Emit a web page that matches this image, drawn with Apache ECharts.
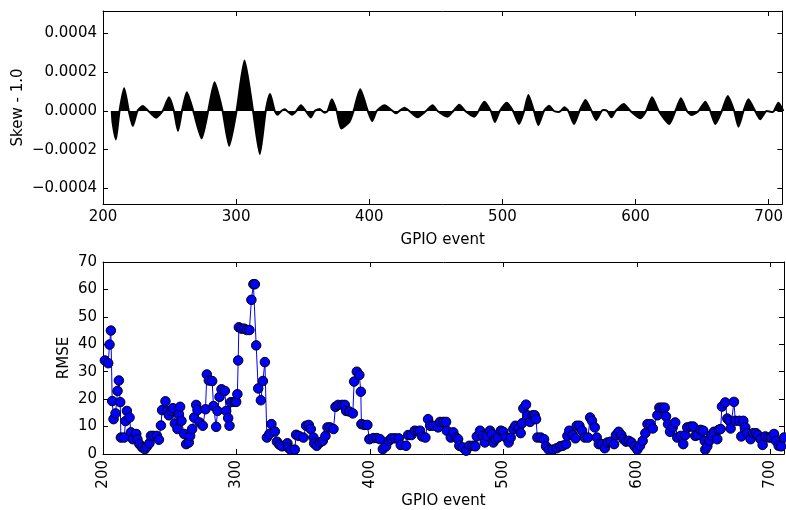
<!DOCTYPE html>
<html>
<head>
<meta charset="utf-8">
<script src="https://cdn.jsdelivr.net/npm/echarts@6/dist/echarts.min.js"></script>
<style>
html,body{margin:0;padding:0;background:#fff;}
#chart{width:786px;height:510px;}
</style>
</head>
<body>
<div id="chart"></div>
<script>
// ---- data ----
const skewEvents = [206.6,207.2,209.7,212.4,215.9,219.4,222.4,225.9,229.9,234.1,239.9,244.8,249.6,253.3,256.3,259.3,263,267.8,274.1,279,283.8,289.8,294.8,300.3,306.3,312.7,317.8,322.2,325.5,329,331,334,336.5,338.2,342,345.2,348.7,352.2,356,359,362.7,364.7,366.4,368.7,371.9,375.5,379,385.2,388.2,393.2,398.9,402.2,405.6,411.4,417.6,420.1,422.6,426.4,430.1,436.3,442.6,447.6,451.3,458.8,463.1,467.6,472.1,478.8,482.1,486.3,491.3,494.3,498,503.3,508,512.5,516.3,519.5,523.7,527,531.2,535,538.7,542,543.7,546.5,549.5,553.8,557.9,562.4,567,570.4,574.5,576.2,578.7,582,585,591.2,596.2,603.7,607.9,612.4,617.4,625.4,629.9,634.1,638.6,642.3,647.3,652.4,656.1,659.9,664.8,669.3,674.1,677.3,681.1,684.8,689.8,693.6,698.5,703,704,707.3,711];
const skewValues = [0,-0.00006,-0.000147,0,0.000117,0,-0.0000776,0,0.000026,0,-0.0000345,0,0.0000707,0,-0.000103,0,0.0000966,0,-0.000141,0,0.000148,0,-0.000179,0,0.00026,0,-0.000222,0,0.000088,0,-0.00002,0,0.0000086,0,-0.00002,0,0.00003,0,-0.000033,0,0.00001,0,-0.0000086,0,0.00006,0,-0.00009,-0.000055,0,0.000112,0,-0.0000517,0,0.000029,0,-0.000012,0,0.0000172,0,-0.0000328,0,0.000029,0,-0.0000293,0,0.0000328,0,-0.0000293,0,0.0000483,0,-0.0000569,0,0.0000431,0,-0.0000672,0,0.0000828,0,-0.0000724,0,0.0000276,0,-0.000005,0,0.000019,0,-0.0000672,0,0.0000569,0,-0.0000466,0,0.000005,0,-0.0000328,0,0.0000362,0,-0.0000379,0,0.0000707,0,-0.0000672,0,0.0000655,0,-0.0000207,0,0.0000483,0,-0.0000672,0,0.0000776,0,-0.000081,0,0.00006,0,-0.0000431,0,-0.000005,0,0.0000431,0];

const rmseEvents = [201.4,203.9,204.9,205.9,206.9,207.9,209.4,210.9,211.9,212.9,213.4,215.9,216.9,217.9,219.9,220.9,222.4,224.9,225.8,227.3,229.4,231.4,232.9,234.8,235.9,237.8,240.4,241.9,243.4,244.3,246.8,247.9,249.4,251.3,252.4,253.9,255.8,256.9,257.8,258.8,260.8,262.3,264.3,265.3,266.8,268.3,269.8,270.8,272.3,274.8,276.8,277.8,279.3,281.8,282.8,284.8,285.8,287.3,288.8,291.3,292.3,293.8,294.8,295.8,298.8,299.8,300.7,301.3,301.8,
303.7,305.8,307.8,309.7,311.2,312.7,313.8,314.8,316.3,318.3,319.8,321.3,322.8,324.7,326.2,328.8,330.3,332.2,334.2,338.2,338.7,340.7,343.7,344.7,346.7,350.2,352.2,354.2,355.7,357.7,358.2,360.2,362.7,364.7,366.7,368.2,370.2,372.7,374.2,376.2,379.2,381.2,382.2,384.6,387.2,388.2,390.2,392.1,393.2,393.6,395.7,398.1,399.6,402.6,405.2,
407.6,409.7,412.1,414.2,416.1,418.7,421.6,423.1,427.1,428.6,431.1,433.6,436.1,437.6,439.1,441.6,443.6,445.1,447.6,451.1,452.6,455.1,457.1,457.6,460.6,462.5,464.6,466.1,467,469.6,472.1,474.5,477.1,479,480.1,482.5,484.6,486.1,487.6,490,491.5,492.5,494,496,498.1,500,502,504,505.5,507.5,
509,511.5,513,514,515,517,518,520,522,523.5,524.5,525.5,528,530.5,532,534,537,540,542.5,544.5,547,548,549.4,552,554,555,557,559,561,563.4,565,566.4,568.5,570,571.5,574,576,578,580.4,583,584.4,586.4,588.4,590,592,594,596,598.4,600.4,602.4,604.4,606.4,608,610.4,612,
615.4,616.9,618.9,620.9,621.9,623.4,624.9,626.9,628.8,630.3,632.9,634.8,636.3,637.8,640.4,642.3,643.8,645.8,647.9,649.8,650.9,651.3,652.8,654.3,655.8,657.8,660.3,661.3,662.8,663.8,666.3,667.8,669.3,670.3,672.8,673.8,676.8,678.3,679.8,681.3,682.8,685.3,687.3,689.3,690.8,692.8,694.3,696.3,698.8,700.7,702.8,704.3,706.3,708.2,710.3];
const rmseValues = [34.1,33.1,39.9,45,19.3,12.7,14.8,23,26.8,18.9,6,6,12,15.7,13.3,7.9,5.4,7.3,5.3,3.6,2.4,1.8,2.7,3.9,6.6,6.6,6.6,5.2,10.4,16,19.2,15.7,14.1,15.7,16.7,11.1,9.1,14.5,17.2,12.1,7.3,3.6,4.2,6.6,9.1,13.3,17.9,16,11.5,10.3,16.3,29,26.8,26.6,17.5,9.9,15.7,20.8,23.6,23,15.7,13.1,10.3,18.9,19,19,21.8,34.1,46.2,
45.7,45.7,45.2,45.2,56.2,61.9,61.9,39.6,23.9,19.6,26.6,33.5,6,7.3,10.9,8.2,4.5,3.4,2.8,3.9,2.4,1.5,1.6,7,6.6,6,10.3,10.6,9.1,6,3.9,3,4.2,4.8,6.6,9.7,9.7,9.1,17.2,17.9,17.9,17.9,15.7,15.5,14.8,26.4,30,28.8,22.7,10.9,10.6,10.6,5.4,5.8,5.8,
5.4,1.8,2.8,4.8,5.7,5.7,5.7,3.3,3,6.9,6.9,8.5,8.3,8.5,6.4,6,12.7,10.3,10.3,9.7,11.7,11.7,11.7,8.5,6,7.9,6,5.4,3,2.4,1.2,3,3,2.8,6.4,8.5,6.6,4.2,6.6,8.5,7.3,4.2,5.4,6,8.5,8.1,6,4.2,6,9.1,
10.3,9.5,7.6,11.2,16.6,18,14.1,11.7,14.1,14.1,12.7,6,6,5.4,2.8,1.6,1.6,2.1,2.8,3,3.6,6.6,8.5,6.9,5.7,10.3,10.3,8.5,6,6,13.3,12.1,9.7,6,3.6,3.6,2.1,4.2,4.5,3.6,6.9,8.1,6.9,5.4,4.5,4.8,4.2,2.8,1.6,3,4.8,7.6,10.9,10.9,9.3,
14.1,16.9,16.9,16.9,13.7,10.9,8.1,9.7,11.5,6,6.6,3.6,6.9,9.7,10,10,6.6,6.9,8.8,8.5,4.8,1.6,2.8,4.8,6.9,8.1,5.4,8.8,9.1,17.3,18.8,12.9,12.1,9.3,19,12.1,12.1,6.4,12.1,9.7,7.6,5.4,7.6,7.6,6.9,5.4,3.3,6.4,6,6,7.3,4.8,3,2.8,6];

const xTicks = [200,300,400,500,600,700];
const skewTicks = [-0.0004,-0.0002,0,0.0002,0.0004];
const rmseTicks = [0,10,20,30,40,50,60,70];

// ---- chart ----
const FONT = 'DejaVu Sans';
const FS = 15;
const X_MIN = 200, X_MAX = 710.3;
const SK_MIN = -0.00048, SK_MAX = 0.000516;

function fmtSkew(v){ return (v < 0 ? '\u2212' : '') + Math.abs(v).toFixed(4); }

function xAxisDef(grid, pos, showLabels, name, nameGap, rotate){
  return {
    type:'value', gridIndex:grid, position:pos, min:X_MIN, max:X_MAX,
    name: name || '', nameLocation:'middle', nameGap: nameGap || 0, nameMoveOverlap:false,
    nameTextStyle:{fontFamily:FONT, fontSize:FS, color:'#000'},
    axisLine:{show:true, onZero:false, lineStyle:{color:'#000', width:1}},
    axisTick:{show:true, inside:true, length:5, customValues:xTicks, lineStyle:{color:'#000', width:1}},
    axisLabel:{show:showLabels, customValues:xTicks, fontFamily:FONT, fontSize:FS, color:'#000', margin:6, rotate:rotate||0,
      formatter:(v)=>String(Math.round(v))},
    splitLine:{show:false}
  };
}
function yAxisDef(grid, pos, min, max, ticks, showLabels, fmt, name, nameGap){
  return {
    type:'value', gridIndex:grid, position:pos, min:min, max:max,
    name: name || '', nameLocation:'middle', nameGap: nameGap || 0, nameMoveOverlap:false,
    nameTextStyle:{fontFamily:FONT, fontSize:FS, color:'#000'},
    axisLine:{show:true, onZero:false, lineStyle:{color:'#000', width:1}},
    axisTick:{show:true, inside:true, length:5, customValues:ticks, lineStyle:{color:'#000', width:1}},
    axisLabel:{show:showLabels, customValues:ticks, fontFamily:FONT, fontSize:FS, color:'#000', margin:6, formatter:fmt},
    splitLine:{show:false}
  };
}

const chart = echarts.init(document.getElementById('chart'), null, {renderer:'canvas'});
chart.setOption({
  animation:false,
  backgroundColor:'#fff',
  grid:[
    {left:103, right:2, top:11, height:193, show:false},
    {left:103, right:2, top:262, height:193, show:false}
  ],
  xAxis:[
    xAxisDef(0,'bottom',true,'GPIO event',29,0),
    xAxisDef(0,'top',false),
    xAxisDef(1,'bottom',true,'GPIO event',40,90),
    xAxisDef(1,'top',false)
  ],
  yAxis:[
    yAxisDef(0,'left',SK_MIN,SK_MAX,skewTicks,true,fmtSkew,'Skew - 1.0',77),
    yAxisDef(0,'right',SK_MIN,SK_MAX,skewTicks,false,fmtSkew),
    yAxisDef(1,'left',0,70,rmseTicks,true,(v)=>String(v),'RMSE',31),
    yAxisDef(1,'right',0,70,rmseTicks,false,(v)=>String(v))
  ],
  series:[
    {
      type:'line', xAxisIndex:0, yAxisIndex:0,
      data: skewEvents.map((x,i)=>[x, skewValues[i]]),
      smooth:0.2, symbol:'none',
      lineStyle:{color:'#000', width:2},
      areaStyle:{color:'#000', opacity:1},
      clip:true
    },
    {
      type:'line', xAxisIndex:2, yAxisIndex:2,
      data: rmseEvents.map((x,i)=>[x, rmseValues[i]]),
      symbol:'circle', symbolSize:9.5, showAllSymbol:true,
      lineStyle:{color:'#0000ff', width:1},
      itemStyle:{color:'#0000ff', borderColor:'#000', borderWidth:1},
      clip:true
    }
  ]
});
</script>
</body>
</html>
